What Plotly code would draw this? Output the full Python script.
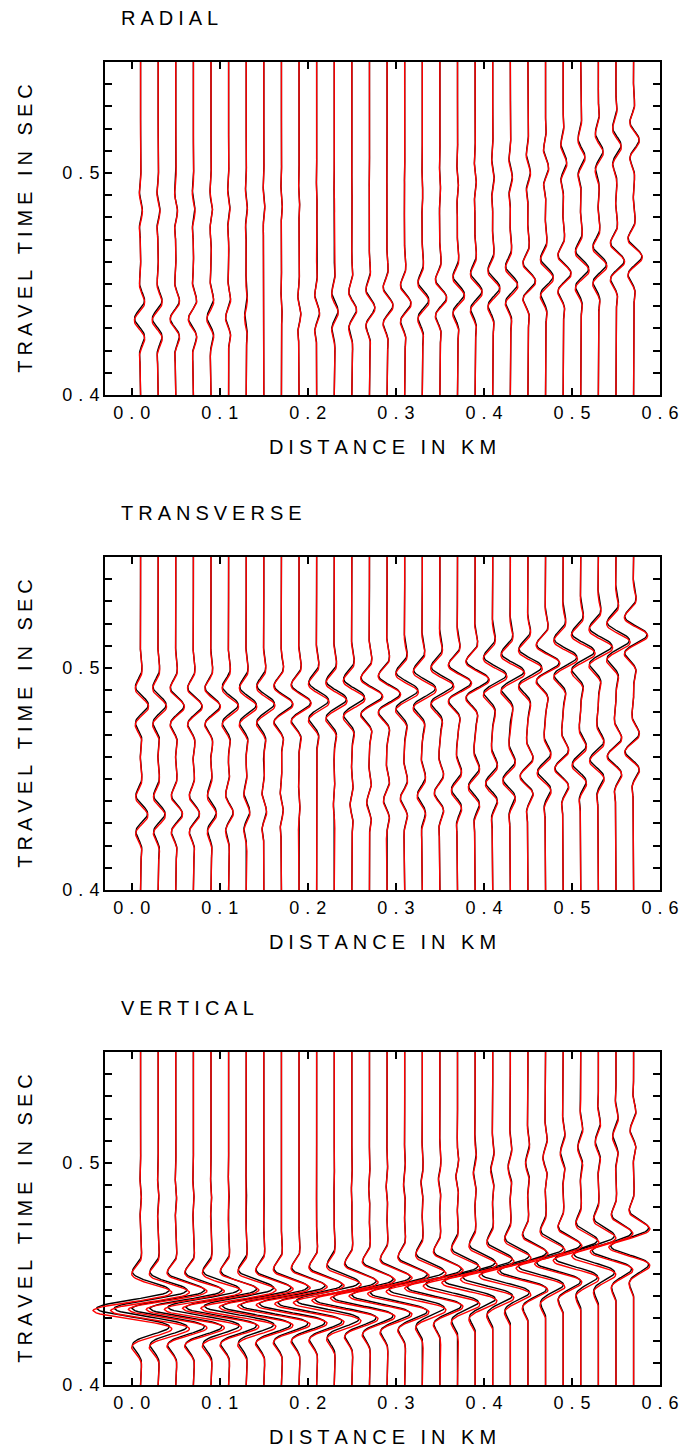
import numpy as np
import plotly.graph_objects as go

# ---------------------------------------------------------------------------
# Station offsets (km) and picked arrival times (s) of the P and S reflections
# ---------------------------------------------------------------------------
OFFSET_KM = [0.01, 0.03, 0.05, 0.07, 0.09, 0.11, 0.13, 0.15, 0.17, 0.19,
             0.21, 0.23, 0.25, 0.27, 0.29, 0.31, 0.33, 0.35, 0.37, 0.39,
             0.41, 0.43, 0.45, 0.47, 0.49, 0.51, 0.53, 0.55, 0.57]

# observed (black) arrival times
P_TIME_OBS = [0.4345, 0.4345, 0.4346, 0.4347, 0.4349, 0.4351, 0.4354, 0.4357, 0.4361, 0.4366,
              0.4372, 0.4379, 0.4387, 0.4396, 0.4406, 0.4417, 0.4429, 0.4442, 0.4455, 0.4469,
              0.4484, 0.4500, 0.4516, 0.4533, 0.4551, 0.4569, 0.4588, 0.4607, 0.4627]
S_TIME_OBS = [0.4833, 0.4833, 0.4832, 0.4832, 0.4832, 0.4833, 0.4835, 0.4838, 0.4842, 0.4847,
              0.4853, 0.4860, 0.4868, 0.4877, 0.4887, 0.4898, 0.4910, 0.4923, 0.4937, 0.4952,
              0.4968, 0.4985, 0.5005, 0.5027, 0.5050, 0.5074, 0.5099, 0.5125, 0.5152]
# synthetic (red) arrival times
P_TIME_SYN = [0.4337, 0.4337, 0.4338, 0.4339, 0.4341, 0.4343, 0.4346, 0.4349, 0.4353, 0.4358,
              0.4364, 0.4371, 0.4379, 0.4388, 0.4398, 0.4409, 0.4421, 0.4434, 0.4447, 0.4461,
              0.4476, 0.4492, 0.4508, 0.4525, 0.4543, 0.4561, 0.4580, 0.4599, 0.4619]
S_TIME_SYN = [0.4825, 0.4825, 0.4824, 0.4824, 0.4824, 0.4825, 0.4827, 0.4830, 0.4834, 0.4839,
              0.4845, 0.4852, 0.4860, 0.4869, 0.4879, 0.4890, 0.4902, 0.4915, 0.4929, 0.4944,
              0.4960, 0.4977, 0.4997, 0.5019, 0.5042, 0.5066, 0.5091, 0.5117, 0.5144]

# ---------------------------------------------------------------------------
# Peak displacement of each arrival (plotted in km along the offset axis)
# ---------------------------------------------------------------------------
RADIAL_P_OBS = [-0.0068, -0.0066, -0.0062, -0.0055, -0.0045, -0.0033, -0.0018, -0.0005, 0.0008, 0.0020,
                0.0032, 0.0043, 0.0052, 0.0060, 0.0066, 0.0070, 0.0073, 0.0075, 0.0077, 0.0078,
                0.0080, 0.0082, 0.0084, 0.0086, 0.0088, 0.0090, 0.0092, 0.0093, 0.0094]
RADIAL_P_SYN = [-0.0071, -0.0069, -0.0065, -0.0058, -0.0047, -0.0035, -0.0019, -0.0005, 0.0008, 0.0021,
                0.0034, 0.0045, 0.0055, 0.0063, 0.0069, 0.0074, 0.0077, 0.0079, 0.0081, 0.0082,
                0.0084, 0.0086, 0.0088, 0.0090, 0.0092, 0.0095, 0.0097, 0.0098, 0.0099]
RADIAL_S_OBS = [0.0020, 0.0020, 0.0019, 0.0018, 0.0017, 0.0016, 0.0014, 0.0012, 0.0010, 0.0008,
                0.0006, 0.0005, 0.0004, 0.0004, 0.0004, 0.0005, 0.0006, 0.0008, 0.0011, 0.0014,
                0.0018, 0.0023, 0.0028, 0.0034, 0.0040, 0.0046, 0.0052, 0.0057, 0.0062]
RADIAL_S_SYN = [0.0021, 0.0021, 0.0020, 0.0019, 0.0018, 0.0017, 0.0015, 0.0013, 0.0011, 0.0008,
                0.0006, 0.0005, 0.0004, 0.0004, 0.0004, 0.0005, 0.0006, 0.0008, 0.0012, 0.0015,
                0.0019, 0.0024, 0.0029, 0.0036, 0.0042, 0.0048, 0.0055, 0.0060, 0.0065]

TRANSVERSE_P_OBS = [0.0080, 0.0078, 0.0074, 0.0068, 0.0060, 0.0050, 0.0040, 0.0030, 0.0020, 0.0010,
                    0.0000, -0.0010, -0.0020, -0.0030, -0.0040, -0.0048, -0.0055, -0.0062, -0.0068, -0.0074,
                    -0.0079, -0.0083, -0.0087, -0.0090, -0.0092, -0.0094, -0.0095, -0.0096, -0.0096]
TRANSVERSE_P_SYN = [0.0084, 0.0082, 0.0078, 0.0071, 0.0063, 0.0053, 0.0042, 0.0032, 0.0021, 0.0011,
                    0.0000, -0.0011, -0.0021, -0.0032, -0.0042, -0.0050, -0.0058, -0.0065, -0.0071, -0.0078,
                    -0.0083, -0.0087, -0.0091, -0.0095, -0.0097, -0.0099, -0.0100, -0.0101, -0.0101]
TRANSVERSE_S_OBS = [0.0088, 0.0090, 0.0093, 0.0097, 0.0102, 0.0108, 0.0114, 0.0120, 0.0126, 0.0131,
                    0.0135, 0.0139, 0.0142, 0.0145, 0.0147, 0.0149, 0.0150, 0.0151, 0.0152, 0.0153,
                    0.0154, 0.0155, 0.0155, 0.0155, 0.0155, 0.0155, 0.0154, 0.0153, 0.0152]
TRANSVERSE_S_SYN = [0.0092, 0.0095, 0.0098, 0.0102, 0.0107, 0.0113, 0.0120, 0.0126, 0.0132, 0.0138,
                    0.0142, 0.0146, 0.0149, 0.0152, 0.0154, 0.0156, 0.0158, 0.0159, 0.0160, 0.0161,
                    0.0162, 0.0163, 0.0163, 0.0163, 0.0163, 0.0163, 0.0162, 0.0161, 0.0160]

VERTICAL_P_OBS = [-0.0500, -0.0500, -0.0498, -0.0495, -0.0490, -0.0484, -0.0477, -0.0469, -0.0460, -0.0450,
                  -0.0440, -0.0430, -0.0420, -0.0410, -0.0400, -0.0390, -0.0380, -0.0370, -0.0360, -0.0350,
                  -0.0340, -0.0330, -0.0320, -0.0310, -0.0300, -0.0290, -0.0280, -0.0270, -0.0260]
VERTICAL_P_SYN = [-0.0540, -0.0540, -0.0538, -0.0535, -0.0529, -0.0523, -0.0515, -0.0506, -0.0497, -0.0486,
                  -0.0475, -0.0464, -0.0454, -0.0443, -0.0432, -0.0421, -0.0410, -0.0400, -0.0389, -0.0378,
                  -0.0367, -0.0356, -0.0346, -0.0335, -0.0324, -0.0313, -0.0302, -0.0292, -0.0281]
VERTICAL_S_OBS = [0.0010, 0.0010, 0.0010, 0.0009, 0.0008, 0.0007, 0.0005, 0.0003, 0.0001, -0.0001,
                  -0.0003, -0.0005, -0.0007, -0.0009, -0.0011, -0.0013, -0.0015, -0.0017, -0.0019, -0.0021,
                  -0.0023, -0.0025, -0.0027, -0.0029, -0.0031, -0.0033, -0.0035, -0.0037, -0.0039]
VERTICAL_S_SYN = [0.0011, 0.0011, 0.0011, 0.0010, 0.0009, 0.0007, 0.0005, 0.0003, 0.0001, -0.0001,
                  -0.0003, -0.0005, -0.0007, -0.0009, -0.0012, -0.0014, -0.0016, -0.0018, -0.0020, -0.0022,
                  -0.0024, -0.0026, -0.0028, -0.0030, -0.0033, -0.0035, -0.0037, -0.0039, -0.0041]

# Source wavelet, one side of a symmetric zero-phase pulse sampled every 0.5 ms
WAVELET_HALF = [1.0000, 0.9834, 0.9344, 0.8551, 0.7489, 0.6205, 0.4752, 0.3191, 0.1586, 0.0000,
                -0.1507, -0.2883, -0.4080, -0.5062, -0.5807, -0.6302, -0.6544, -0.6546, -0.6326, -0.5912,
                -0.5340, -0.4644, -0.3865, -0.3043, -0.2215, -0.1414, -0.0668, 0.0000, 0.0573, 0.1042,
                0.1402, 0.1653, 0.1802, 0.1858, 0.1834, 0.1744, 0.1601, 0.1423, 0.1221, 0.1009,
                0.0798, 0.0597, 0.0414, 0.0251, 0.0112, 0.0000, -0.0087, -0.0151, -0.0193, -0.0216,
                -0.0224, -0.0219, -0.0206, -0.0186, -0.0163, -0.0137, -0.0110, -0.0080, -0.0050, -0.0022,
                0.0000]

X_TICKS = [0.0, 0.1, 0.2, 0.3, 0.4, 0.5, 0.6]
X_TICK_TEXT = ["0.0", "0.1", "0.2", "0.3", "0.4", "0.5", "0.6"]
Y_TICKS = [0.40, 0.41, 0.42, 0.43, 0.44, 0.45, 0.46, 0.47, 0.48, 0.49,
           0.50, 0.51, 0.52, 0.53, 0.54, 0.55]
Y_TICK_TEXT = {0.40: "0.4", 0.50: "0.5"}

PANELS = [
    ("RADIAL", (RADIAL_P_OBS, RADIAL_S_OBS), (RADIAL_P_SYN, RADIAL_S_SYN)),
    ("TRANSVERSE", (TRANSVERSE_P_OBS, TRANSVERSE_S_OBS), (TRANSVERSE_P_SYN, TRANSVERSE_S_SYN)),
    ("VERTICAL", (VERTICAL_P_OBS, VERTICAL_S_OBS), (VERTICAL_P_SYN, VERTICAL_S_SYN)),
]

# ---------------------------------------------------------------------------
# Trace synthesis: every arrival places the wavelet at its picked time
# ---------------------------------------------------------------------------
DT = 0.0005
T_START = 0.400
N_SAMP = 301
time_axis = T_START + DT * np.arange(N_SAMP)
wavelet = np.array(WAVELET_HALF[::-1] + WAVELET_HALF[1:])
w_half = len(WAVELET_HALF) - 1


def seismogram(arrivals):
    trace = np.zeros(N_SAMP)
    for t_arr, amp in arrivals:
        centre = int(round((t_arr - T_START) / DT))
        for k, w in enumerate(wavelet):
            i = centre - w_half + k
            if 0 <= i < N_SAMP:
                trace[i] += amp * w
    return trace


def spaced(text, gap="\u2005"):
    return gap.join(text)


def tick_label(text):
    return text.replace(".", "\u2004.\u2004")


FONT = "Liberation Sans, Arial, Helvetica, sans-serif"
W, H = 684, 1450
FRAME_X = (105, 660)
FRAME_Y = [(62, 395), (557, 890), (1052, 1385)]   # top, bottom in pixels
TITLE_Y = [18, 513, 1008]
X_RANGE = [-0.0304, 0.6]
PX_PER_KM = (FRAME_X[1] - FRAME_X[0]) / (X_RANGE[1] - X_RANGE[0])
SPILL_PX = 18   # large vertical-component pulses may run past the left frame

fig = go.Figure()
layout = dict(
    width=W, height=H, margin=dict(l=0, r=0, t=0, b=0, autoexpand=False),
    paper_bgcolor="white", plot_bgcolor="rgba(0,0,0,0)", showlegend=False,
    font=dict(family=FONT, color="black"),
)
annotations = []

for p, (name, obs_amps, syn_amps) in enumerate(PANELS):
    ax = "" if p == 0 else str(p + 1)
    xref, yref = "x" + ax, "y" + ax
    # the vertical panel draws its traces on a hidden, wider x-axis with the same scale
    trace_xref = "x4" if p == 2 else xref
    if trace_xref != xref:
        # keeps the framed subplot (its axes, ticks and titles) in the figure
        fig.add_trace(go.Scatter(x=[None], y=[None], mode="lines", xaxis=xref, yaxis=yref,
                                 hoverinfo="skip"))
    for times, amps, colour in ((
            (P_TIME_OBS, S_TIME_OBS), obs_amps, "black"),
            ((P_TIME_SYN, S_TIME_SYN), syn_amps, "#ff0000")):
        for j, x0 in enumerate(OFFSET_KM):
            arrivals = [(times[0][j], amps[0][j]), (times[1][j], amps[1][j])]
            d = seismogram(arrivals)
            fig.add_trace(go.Scatter(
                x=x0 + d, y=time_axis, mode="lines", xaxis=trace_xref, yaxis=yref,
                line=dict(color=colour, width=1.4), hoverinfo="skip"))

    top, bottom = FRAME_Y[p]
    common = dict(showline=True, linecolor="black", linewidth=2, mirror="ticks",
                  ticks="inside", ticklen=7, tickwidth=1.5, tickcolor="black",
                  showgrid=False, zeroline=False, automargin=False,
                  tickfont=dict(family=FONT, size=18, color="black"))
    layout["xaxis" + ax] = dict(
        common, domain=[FRAME_X[0] / W, FRAME_X[1] / W], range=X_RANGE,
        anchor=yref, tickmode="array", tickvals=X_TICKS,
        ticktext=[tick_label(s) for s in X_TICK_TEXT],
        title=dict(text=spaced("DISTANCE IN KM"), standoff=18,
                   font=dict(family=FONT, size=20, color="black")))
    layout["yaxis" + ax] = dict(
        common, domain=[1 - bottom / H, 1 - top / H], range=[0.4, 0.55],
        anchor=xref, tickmode="array", tickvals=Y_TICKS,
        ticktext=[tick_label(Y_TICK_TEXT.get(v, "")) for v in Y_TICKS],
        title=dict(text=spaced("TRAVEL TIME IN SEC"), standoff=24,
                   font=dict(family=FONT, size=20, color="black")))
    annotations.append(dict(
        text=spaced(name), x=119 / W, y=1 - TITLE_Y[p] / H, xref="paper", yref="paper",
        xanchor="left", yanchor="middle", showarrow=False,
        font=dict(family=FONT, size=20, color="black")))

layout["xaxis4"] = dict(
    visible=False, anchor="y3", automargin=False, showgrid=False, zeroline=False,
    domain=[(FRAME_X[0] - SPILL_PX) / W, FRAME_X[1] / W],
    range=[X_RANGE[0] - SPILL_PX / PX_PER_KM, X_RANGE[1]])

layout["annotations"] = annotations
fig.update_layout(**layout)
fig.write_html("out.html")
